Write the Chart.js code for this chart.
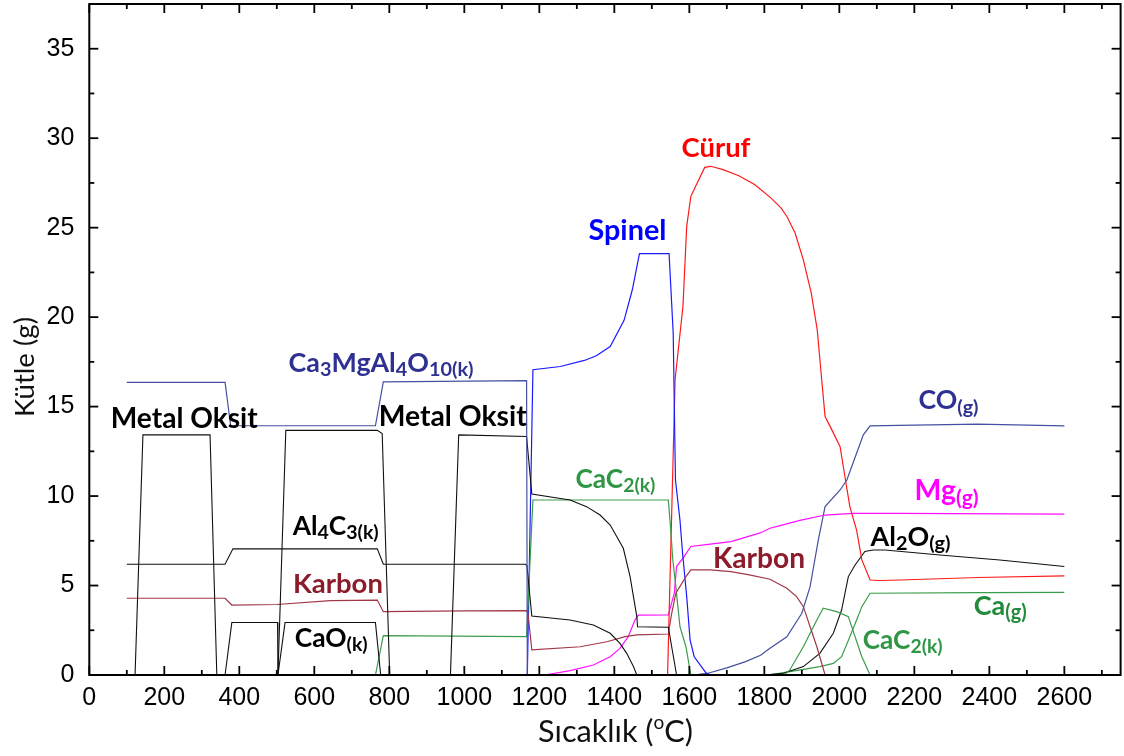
<!DOCTYPE html>
<html>
<head>
<meta charset="utf-8">
<script src="https://cdn.jsdelivr.net/npm/chart.js@4.4.1/dist/chart.umd.min.js"></script>
<style>
html,body{margin:0;padding:0;background:#fff;}
#wrap{width:1124px;height:756px;}
</style>
</head>
<body>
<div id="wrap"><canvas id="c" width="1124" height="756"></canvas></div>
<script>
// ---------- tick labels ----------
const xTicks = [0,200,400,600,800,1000,1200,1400,1600,1800,2000,2200,2400,2600];
const xMinorTicks = [100,300,500,700,900,1100,1300,1500,1700,1900,2100,2300,2500,2700];
const yTicks = [0,5,10,15,20,25,30,35];
const yMinorTicks = [2.5,7.5,12.5,17.5,22.5,27.5,32.5];

// ---------- series: [temperature (°C), mass (g)] ----------
const ca3MgAl4O10 = [[100,16.35],[362,16.35],[377,13.93],[763,13.93],[784,16.38],[1166,16.45],[1168,0]];
const metalOxide = [[122,0],[143,13.42],[322,13.42],[340,0],[341,null],
  [503,0],[524,13.67],[768,13.67],[781,13.5],[801,0],[802,null],
  [963,0],[985,13.42],[1166,13.33],[1180,10.12],[1282,9.78],[1326,9.41],[1362,8.94],[1389,8.38],
  [1424,7.08],[1442,5.5],[1451,4.38],[1460,3.26],[1462,2.7],[1544,2.67],[1566,0]];
const al4C3 = [[100,6.19],[362,6.19],[383,7.05],[768,7.05],[784,6.19],[1163,6.19],[1167,6.1],
  [1180,3.3],[1282,3.07],[1344,2.79],[1389,2.33],[1415,1.77],[1433,1.21],[1451,0.47],[1460,0]];
const karbon = [[100,4.29],[362,4.29],[380,3.91],[500,3.94],[643,4.16],[768,4.19],[784,3.54],
  [1000,3.58],[1166,3.6],[1170,3.4],[1180,1.4],[1309,1.58],[1380,1.86],[1429,2.14],[1460,2.24],
  [1544,2.29],[1553,3.45],[1564,4.57],[1591,5.5],[1604,5.87],[1657,5.87],[1711,5.78],[1760,5.6],
  [1815,5.35],[1860,4.85],[1886,4.38],[1904,3.82],[1922,2.7],[1940,1.58],[1962,0]];
const caO = [[362,0],[380,2.93],[502,2.93],[503,0],[522,2.93],[763,2.93],[777,0]];
const caC2 = [[763,0],[784,2.2],[1166,2.14],[1180,8.5],[1183,9.78],[1544,9.78],[1549,8.48],[1556,6.43],
  [1564,4.94],[1575,2.7],[1591,1.58],[1604,0],[1605,null],
  [1853,0],[1868,0.28],[1904,1.58],[1940,3.07],[1957,3.73],[1993,3.54],[2024,3.26],[2042,2.14],[2060,1.02],[2082,0]];
const spinel = [[1168,0],[1183,17.06],[1256,17.24],[1320,17.58],[1352,17.84],[1389,18.36],[1426,19.82],
  [1448,21.53],[1467,23.55],[1546,23.55],[1557,19.1],[1563,10.9],[1575,8.66],[1582,6.8],[1593,4.38],
  [1602,1.96],[1613,1.02],[1645,0.1],[1660,0]];
const curuf = [[1542,0],[1562,16.5],[1583,20.6],[1593,25.07],[1604,26.75],[1641,28.37],[1657,28.43],
  [1690,28.24],[1732,27.9],[1775,27.4],[1818,26.65],[1845,26.09],[1861,25.6],[1882,24.7],[1904,23.2],
  [1925,21.35],[1941,19.3],[1953,16.5],[1962,14.44],[1980,13.7],[2002,12.76],[2015,11.08],[2028,9.41],
  [2046,8.1],[2060,6.43],[2082,5.31],[2108,5.28],[2162,5.31],[2370,5.45],[2600,5.54]];
const mgGas = [[1215,0],[1282,0.24],[1344,0.56],[1389,1.02],[1415,1.49],[1437,2.14],[1455,3.07],[1464,3.35],
  [1544,3.36],[1560,4.57],[1566,6.06],[1586,6.62],[1604,7.18],[1639,7.27],[1711,7.45],[1789,7.94],
  [1815,8.2],[1842,8.35],[1895,8.64],[1962,8.94],[2037,9.03],[2161,9.03],[2600,8.99]];
const coGas = [[1612,0],[1650,0.1],[1700,0.4],[1750,0.75],[1790,1.1],[1815,1.49],[1860,2.14],[1900,3.45],
  [1922,4.94],[1944,7.55],[1962,9.41],[2002,10.34],[2020,10.9],[2046,12.39],[2064,13.42],[2082,13.92],
  [2158,13.95],[2370,14.02],[2600,13.92]];
const al2OGas = [[1800,0],[1851,0.1],[1904,0.47],[1948,1.21],[1984,2.33],[2006,3.63],[2024,5.5],[2042,6.15],
  [2068,6.9],[2090,6.99],[2122,6.99],[2268,6.71],[2428,6.43],[2600,6.06]];
const caGas = [[1810,0],[1868,0.19],[1948,0.47],[1984,0.65],[2006,1.02],[2028,2.14],[2046,3.07],[2060,3.82],
  [2082,4.57],[2374,4.6],[2600,4.62]];

// ---------- styling ----------
const NAVY_LINE = '#4450a0', NAVY_TEXT = '#2e3192';
const BLUE = '#1a1aff', RED = '#ff1a1a', KARBON_LINE = '#a03848', KARBON_TEXT = '#8c1c2c';
const GREEN_LINE = '#3a9c4a', GREEN_TEXT = '#2e9645', MAGENTA = '#ff10ff', BLACK = '#111';

function ds(label, pts, color, w) {
  return {
    label, data: pts.map(p => ({x: p[0], y: p[1]})),
    borderColor: color, backgroundColor: color, borderWidth: w || 1.2,
    pointRadius: 0, tension: 0, spanGaps: false, fill: false
  };
}

const datasets = [
  ds('Ca3MgAl4O10', ca3MgAl4O10, NAVY_LINE),
  ds('Metal Oksit', metalOxide, BLACK, 1.1),
  ds('Al4C3', al4C3, BLACK, 1.1),
  ds('Karbon', karbon, KARBON_LINE),
  ds('CaO', caO, BLACK, 1.1),
  ds('CaC2', caC2, GREEN_LINE),
  ds('Spinel', spinel, BLUE),
  ds('Cüruf', curuf, RED),
  ds('Mg(g)', mgGas, MAGENTA),
  ds('CO(g)', coGas, NAVY_LINE),
  ds('Al2O(g)', al2OGas, BLACK, 1.1),
  ds('Ca(g)', caGas, GREEN_LINE)
];

// annotation labels: text parts [text, kind] kind 0=normal 1=subscript 2=superscript
const labels = [
  {parts:[['Metal Oksit',0]], x:253, y:13.79, w:147, color:'#000'},
  {parts:[['Metal Oksit',0]], x:969, y:13.92, w:148, color:'#000'},
  {parts:[['Ca',0],['3',1],['MgAl',0],['4',1],['O',0],['10(k)',1]], x:778, y:16.95, w:185, color:NAVY_TEXT},
  {parts:[['Al',0],['4',1],['C',0],['3(k)',1]], x:657, y:7.83, w:86, color:'#000'},
  {parts:[['Karbon',0]], x:663, y:4.6, w:90, color:KARBON_TEXT},
  {parts:[['CaO',0],['(k)',1]], x:645, y:1.58, w:73, color:'#000'},
  {parts:[['Spinel',0]], x:1435, y:24.32, w:78, color:'#0000ff'},
  {parts:[['Cüruf',0]], x:1671, y:28.97, w:69, color:'#ff0000'},
  {parts:[['CaC',0],['2(k)',1]], x:1403, y:10.44, w:80, color:GREEN_TEXT},
  {parts:[['Karbon',0]], x:1786, y:5.96, w:92, color:KARBON_TEXT},
  {parts:[['CO',0],['(g)',1]], x:2291, y:14.85, w:60, color:NAVY_TEXT},
  {parts:[['Mg',0],['(g)',1]], x:2286, y:9.78, w:64, color:'#ff00ff'},
  {parts:[['Al',0],['2',1],['O',0],['(g)',1]], x:2190, y:7.21, w:80, color:'#000'},
  {parts:[['Ca',0],['(g)',1]], x:2429, y:3.35, w:53, color:'#238a3c'},
  {parts:[['CaC',0],['2(k)',1]], x:2169, y:1.44, w:80, color:GREEN_TEXT}
];

function partFont(kind, size, weight, family) {
  const s = kind === 0 ? size : (kind === 1 ? size * 0.74 : size * 0.62);
  return {font: `${weight} ${s}px ${family}`, dy: kind === 1 ? size * 0.16 : (kind === 2 ? -size * 0.4 : 0)};
}
function richWidth(ctx, parts, size, weight, family) {
  let w = 0;
  for (const [t, k] of parts) { ctx.font = partFont(k, size, weight, family).font; w += ctx.measureText(t).width; }
  return w;
}
function drawRich(ctx, parts, cx, by, targetW, weight, family, color) {
  const base = 20;
  const size = base * targetW / richWidth(ctx, parts, base, weight, family);
  let x = cx - richWidth(ctx, parts, size, weight, family) / 2;
  ctx.fillStyle = color; ctx.textAlign = 'left'; ctx.textBaseline = 'alphabetic';
  for (const [t, k] of parts) {
    const f = partFont(k, size, weight, family);
    ctx.font = f.font;
    ctx.fillText(t, x, by + f.dy);
    x += ctx.measureText(t).width;
  }
}

const framePlugin = {
  id: 'frame',
  afterDatasetsDraw(chart) {
    const {ctx, chartArea: a, scales: {x, y}} = chart;
    ctx.save();
    ctx.strokeStyle = '#000';
    ctx.lineWidth = 1.8;
    const tick = (x1, y1, x2, y2) => { ctx.beginPath(); ctx.moveTo(x1, y1); ctx.lineTo(x2, y2); ctx.stroke(); };
    const MAJ = 9, MIN = 5;
    xTicks.forEach(v => { const px = x.getPixelForValue(v); tick(px, a.bottom, px, a.bottom - MAJ); tick(px, a.top, px, a.top + MAJ); });
    xMinorTicks.forEach(v => { const px = x.getPixelForValue(v); tick(px, a.bottom, px, a.bottom - MIN); tick(px, a.top, px, a.top + MIN); });
    yTicks.forEach(v => { const py = y.getPixelForValue(v); tick(a.left, py, a.left + MAJ, py); tick(a.right, py, a.right - MAJ, py); });
    yMinorTicks.forEach(v => { const py = y.getPixelForValue(v); tick(a.left, py, a.left + MIN, py); tick(a.right, py, a.right - MIN, py); });
    ctx.lineWidth = 2;
    ctx.strokeRect(a.left, a.top, a.right - a.left, a.bottom - a.top);
    ctx.restore();
  },
  afterDraw(chart) {
    const {ctx, scales: {x, y}} = chart;
    ctx.save();
    for (const L of labels) {
      drawRich(ctx, L.parts, x.getPixelForValue(L.x), y.getPixelForValue(L.y), L.w, 'bold', 'Lato, "Open Sans", sans-serif', L.color);
    }
    // axis titles
    drawRich(ctx, [['Sıcaklık (',0],['o',2],['C)',0]], 615.5, 741.5, 155, 'normal', 'Lato, "Open Sans", sans-serif', '#111');
    ctx.translate(33.5, 367);
    ctx.rotate(-Math.PI / 2);
    drawRich(ctx, [['Kütle (g)',0]], 0, 0, 100, 'normal', 'Lato, "Open Sans", sans-serif', '#111');
    ctx.restore();
  }
};

const tickFont = {family: '"Liberation Sans", Arial, sans-serif', size: 25};
function noPad(s) { s.paddingTop = 0; s.paddingBottom = 0; s.paddingLeft = 0; s.paddingRight = 0; }

new Chart(document.getElementById('c'), {
  type: 'line',
  data: {datasets},
  options: {
    responsive: false,
    animation: false,
    events: [],
    layout: {padding: {left: 0, right: 3.4, top: 4, bottom: 0}},
    plugins: {legend: {display: false}, tooltip: {enabled: false}, title: {display: false}},
    scales: {
      x: {
        type: 'linear', min: 0, max: 2750, position: 'bottom',
        afterBuildTicks: s => { s.ticks = xTicks.map(v => ({value: v})); },
        afterFit: s => { s.height = 81; noPad(s); },
        grid: {display: false, drawTicks: false},
        border: {display: false},
        ticks: {font: tickFont, color: '#000', padding: 8, maxRotation: 0, autoSkip: false, callback: v => String(v)}
      },
      y: {
        type: 'linear', min: 0, max: 37.5, position: 'left',
        afterBuildTicks: s => { s.ticks = yTicks.map(v => ({value: v})); },
        afterFit: s => { s.width = 89.3; noPad(s); },
        grid: {display: false, drawTicks: false},
        border: {display: false},
        ticks: {font: tickFont, color: '#000', padding: 15, autoSkip: false, callback: v => String(v)}
      }
    }
  },
  plugins: [framePlugin]
});
</script>
</body>
</html>
